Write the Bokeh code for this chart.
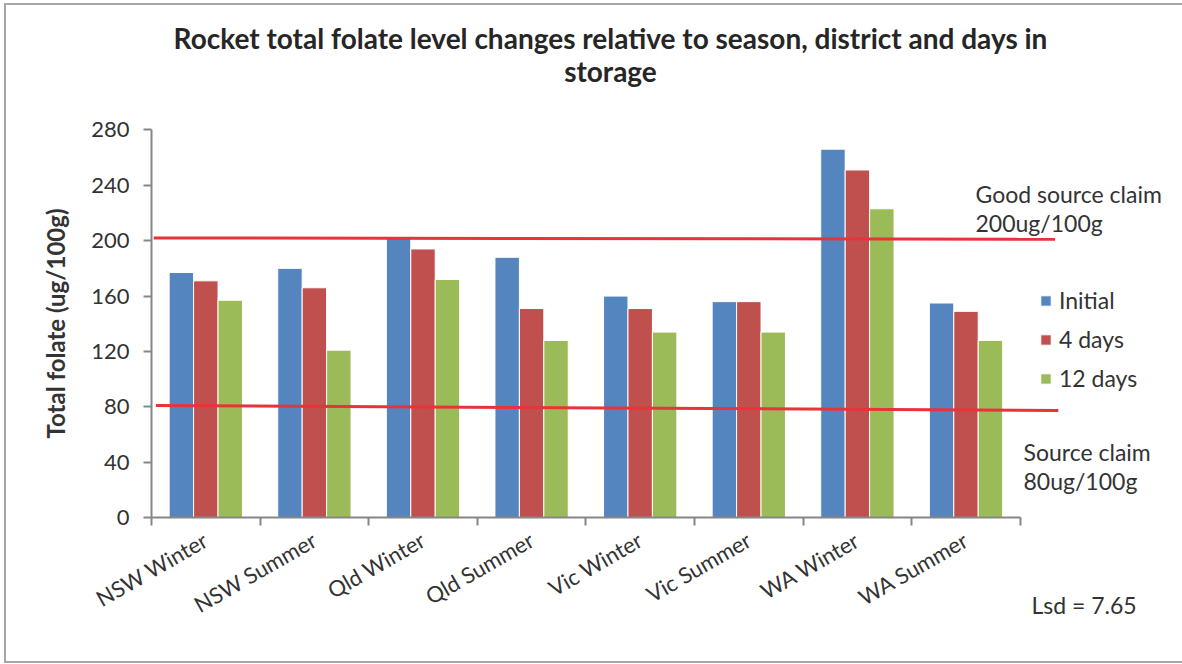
import math

from bokeh.embed import file_html
from bokeh.models import (ColumnDataSource, FixedTicker, Label, Legend, LegendItem,
                          LinearAxis, Range1d, SingleIntervalTicker)
from bokeh.plotting import figure
from bokeh.resources import INLINE
from bokeh.transform import dodge

# ---- data -------------------------------------------------------------
categories = ["NSW Winter", "NSW Summer", "Qld Winter", "Qld Summer",
              "Vic Winter", "Vic Summer", "WA Winter", "WA Summer"]
initial = [177, 180, 203, 188, 160, 156, 266, 155]
days_4 = [171, 166, 194, 151, 151, 156, 251, 149]
days_12 = [157, 121, 172, 128, 134, 134, 223, 128]
series_names = ["Initial", "4 days", "12 days"]

# hand-drawn claim reference lines (start / end in chart units)
claim_x_start = [0.02, 0.04]
claim_x_end = [8.32, 8.35]
claim_y_start = [202, 81]
claim_y_end = [201, 77.5]

# ---- styling ------------------------------------------------------------
FONT = "Lato"
TEXT = "#333333"
AXIS = "#868686"
COLORS = ["#5585BF", "#C0504D", "#9BBB59"]

W, H = 1182, 664
X_ZERO_PX = 151                      # pixel column of the value axis
Y_TOP_PX, Y_ZERO_PX = 129.3, 517.3   # pixel rows of the 280 and 0 ticks
Y_MAX = 280
n_cat = len(categories)
cat_px = 108.6                       # pixel width of one category slot
px_per_unit = (Y_ZERO_PX - Y_TOP_PX) / Y_MAX

# the plotting frame covers the whole canvas; both axes sit at fixed locations
x_start = -X_ZERO_PX / cat_px
x_end = (W - X_ZERO_PX) / cat_px
y_start = -(H - Y_ZERO_PX) / px_per_unit
y_end = Y_MAX + Y_TOP_PX / px_per_unit


def px_to_x(px):
    return (px - X_ZERO_PX) / cat_px


def py_to_y(py):
    return (Y_ZERO_PX - py) / px_per_unit


centers = [i + 0.5 for i in range(n_cat)]
src = ColumnDataSource(dict(x=centers, initial=initial, d4=days_4, d12=days_12))

p = figure(width=W, height=H, output_backend="svg", toolbar_location=None,
           x_range=Range1d(x_start, x_end), y_range=Range1d(y_start, y_end),
           x_axis_type=None, y_axis_type=None, min_border=0)
p.outline_line_color = None
p.grid.visible = False
p.background_fill_color = None
p.border_fill_color = None
# thin grey frame around the whole chart area
p.stylesheets = [""":host { position: relative; background: white; }
:host::after { content: ""; position: absolute; left: 4px; top: 3px; right: 0px; bottom: 1px;
  border: 2px solid #A6A6A6; border-right: none; pointer-events: none; z-index: 10; }"""]

bar_w = 0.225
renderers = []
for col, off, color in zip(["initial", "d4", "d12"], [-bar_w, 0, bar_w], COLORS):
    r = p.vbar(x=dodge("x", off), top=col, bottom=0, width=bar_w, source=src,
               fill_color=color, line_color="white", line_width=1)
    renderers.append(r)

# claim lines
p.segment(x0=claim_x_start, y0=claim_y_start, x1=claim_x_end, y1=claim_y_end,
          line_color="#E8333B", line_width=3)

# ---- axes ---------------------------------------------------------------
yaxis = LinearAxis(ticker=SingleIntervalTicker(interval=40), bounds=(0, Y_MAX),
                   fixed_location=0, axis_label="Total folate (ug/100g)")
yaxis.axis_line_color = AXIS
yaxis.axis_line_width = 2
yaxis.major_tick_line_color = AXIS
yaxis.major_tick_line_width = 2
yaxis.major_tick_out = 8
yaxis.major_tick_in = 0
yaxis.minor_tick_line_color = None
yaxis.major_label_text_font = FONT
yaxis.major_label_text_font_size = "22px"
yaxis.major_label_text_color = TEXT
yaxis.major_label_standoff = 14
yaxis.axis_label_text_font = FONT
yaxis.axis_label_text_font_style = "bold"
yaxis.axis_label_text_font_size = "24px"
yaxis.axis_label_text_color = TEXT
yaxis.axis_label_standoff = 18
p.add_layout(yaxis, "left")

xaxis = LinearAxis(ticker=FixedTicker(ticks=centers, minor_ticks=list(range(n_cat + 1))),
                   bounds=(0, n_cat), fixed_location=0)
xaxis.major_label_overrides = {c: name for c, name in zip(centers, categories)}
xaxis.axis_line_color = AXIS
xaxis.axis_line_width = 2
xaxis.major_tick_line_color = None
xaxis.major_tick_out = 0
xaxis.major_tick_in = 0
xaxis.minor_tick_line_color = AXIS
xaxis.minor_tick_line_width = 2
xaxis.minor_tick_out = 8
xaxis.minor_tick_in = 0
xaxis.major_label_orientation = math.radians(30)
xaxis.major_label_text_font = FONT
xaxis.major_label_text_font_size = "22px"
xaxis.major_label_text_color = TEXT
xaxis.major_label_standoff = 12
p.add_layout(xaxis, "below")

# ---- legend -------------------------------------------------------------
legend = Legend(items=[LegendItem(label=n, renderers=[r]) for n, r in zip(series_names, renderers)],
                location=(1040 - 1, 272), orientation="vertical")
legend.padding = 0
legend.margin = 0
legend.spacing = 11
legend.label_height = 26
legend.glyph_height = 13
legend.glyph_width = 13
legend.label_standoff = 7
legend.border_line_color = None
legend.background_fill_alpha = 0
legend.label_text_font = FONT
legend.label_text_font_size = "23px"
legend.label_text_color = TEXT
p.add_layout(legend, "center")

# ---- title --------------------------------------------------------------
title_lines = ["Rocket total folate level changes relative to season, district and days in",
               "storage"]
for line, py in zip(title_lines, [37, 70]):
    p.add_layout(Label(x=px_to_x(610), y=py_to_y(py), text=line, text_align="center",
                       text_baseline="middle", text_font=FONT, text_font_style="bold",
                       text_font_size="28px", text_color="#262626"))

# ---- notes --------------------------------------------------------------
notes = [("Good source claim", 975, 193), ("200ug/100g", 975, 222),
         ("Source claim", 1023, 451), ("80ug/100g", 1023, 480),
         ("Lsd = 7.65", 1031, 604)]
for txt, px, py in notes:
    p.add_layout(Label(x=px_to_x(px), y=py_to_y(py), text=txt, text_align="left",
                       text_baseline="middle", text_font=FONT,
                       text_font_size="23px", text_color=TEXT))

open("out.html", "w").write(file_html(p, INLINE))
